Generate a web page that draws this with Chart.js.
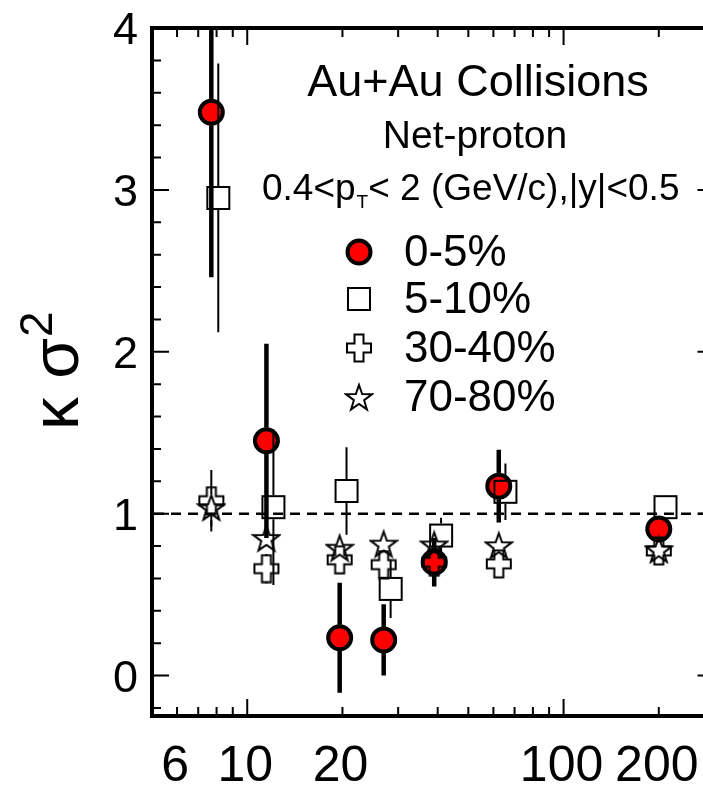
<!DOCTYPE html>
<html>
<head>
<meta charset="utf-8">
<script src="https://cdn.jsdelivr.net/npm/chart.js@4.4.1/dist/chart.umd.min.js"></script>
<style>
  html, body { margin: 0; padding: 0; background: #fff; overflow: hidden; }
  #wrap { position: relative; width: 730px; height: 785px; }
</style>
</head>
<body>
<div id="wrap"><canvas id="chart"></canvas></div>
<script>
// collision energies (GeV); the 5-10% points sit slightly to the right
const energies = [7.7, 11.5, 19.6, 27, 39, 62.4, 200];
const energiesShifted = [8.1, 12.1, 20.6, 28.4, 41, 65.5, 210];

const ks0to5 = [3.48, 1.45, 0.233, 0.22, 0.70, 1.17, 0.905];
const err0to5 = [1.02, 0.60, 0.34, 0.22, 0.15, 0.225, 0.05];
const ks5to10 = [2.95, 1.04, 1.14, 0.535, 0.865, 1.135, 1.04];
const err5to10 = [0.83, 0.48, 0.27, 0.18, 0.11, 0.175, 0.075];
const ks30to40 = [1.08, 0.66, 0.715, 0.685, 0.70, 0.69, 0.77];
const err30to40 = [0.19, 0.09, 0.08, 0.08, 0.06, 0.06, 0.03];
const ks70to80 = [1.04, 0.85, 0.79, 0.815, 0.81, 0.805, 0.78];
const err70to80 = [0.12, 0.07, 0.06, 0.06, 0.05, 0.04, 0.02];

const xTickLabels = [6, 10, 20, 100, 200];
const yTickLabels = [0, 1, 2, 3, 4];

const FONT = '"Liberation Sans", Arial, Helvetica, sans-serif';

function toPoints(xs, ys) {
  return xs.map((x, i) => ({ x: x, y: ys[i] }));
}

// hollow marker sprites, drawn once
function markerCanvas(draw) {
  const c = document.createElement('canvas');
  c.width = 30; c.height = 30;
  const g = c.getContext('2d');
  g.strokeStyle = '#000';
  g.lineWidth = 2;
  draw(g, 15, 15);
  return c;
}
const openSquare = markerCanvas((g, cx, cy) => {
  g.strokeRect(cx - 11, cy - 11, 22, 22);
});
const openCross = markerCanvas((g, cx, cy) => {
  const ax = 12, ay = 13.5, b = 4.5;
  g.beginPath();
  g.moveTo(cx - b, cy - ay); g.lineTo(cx + b, cy - ay); g.lineTo(cx + b, cy - b);
  g.lineTo(cx + ax, cy - b); g.lineTo(cx + ax, cy + b); g.lineTo(cx + b, cy + b);
  g.lineTo(cx + b, cy + ay); g.lineTo(cx - b, cy + ay); g.lineTo(cx - b, cy + b);
  g.lineTo(cx - ax, cy + b); g.lineTo(cx - ax, cy - b); g.lineTo(cx - b, cy - b);
  g.closePath();
  g.stroke();
});
const openStar = markerCanvas((g, cx, cy) => {
  const R = 13.5, r = 5.4;
  g.beginPath();
  for (let k = 0; k < 10; k++) {
    const rad = k % 2 === 0 ? R : r;
    const a = -Math.PI / 2 + k * Math.PI / 5;
    const px = cx + rad * Math.cos(a), py = cy + 1.5 + rad * Math.sin(a);
    if (k === 0) g.moveTo(px, py); else g.lineTo(px, py);
  }
  g.closePath();
  g.stroke();
});

// vertical error bars, broken where the marker sits
const errorBars = {
  id: 'errorBars',
  afterDatasetsDraw(chart) {
    const { ctx, chartArea: a, scales: { x, y } } = chart;
    ctx.save();
    ctx.beginPath();
    ctx.rect(a.left, a.top, a.right - a.left, a.bottom - a.top);
    ctx.clip();
    ctx.strokeStyle = '#000';
    chart.data.datasets.forEach(ds => {
      ctx.lineWidth = ds.errWidth;
      ds.data.forEach((p, i) => {
        const px = x.getPixelForValue(p.x);
        const py = y.getPixelForValue(p.y);
        const top = y.getPixelForValue(p.y + ds.errors[i]);
        const bot = y.getPixelForValue(p.y - ds.errors[i]);
        const gap = ds.markerGap;
        ctx.beginPath();
        if (py - gap > top) { ctx.moveTo(px, top); ctx.lineTo(px, py - gap); }
        if (py + gap < bot) { ctx.moveTo(px, py + gap); ctx.lineTo(px, bot); }
        ctx.stroke();
      });
    });
    ctx.restore();
  }
};

// dashed reference line at 1
const unityLine = {
  id: 'unityLine',
  beforeDatasetsDraw(chart) {
    const { ctx, chartArea: a, scales: { y } } = chart;
    const py = y.getPixelForValue(1);
    ctx.save();
    ctx.strokeStyle = '#000';
    ctx.lineWidth = 2.5;
    ctx.setLineDash([10, 7]);
    ctx.beginPath();
    ctx.moveTo(a.left + 2, py);
    ctx.lineTo(a.right, py);
    ctx.stroke();
    ctx.restore();
  }
};

// frame with inward ticks on all four sides, tick labels and annotations
const frameAndText = {
  id: 'frameAndText',
  afterDraw(chart) {
    const { ctx, chartArea: a, scales: { x, y } } = chart;
    ctx.save();
    ctx.strokeStyle = '#000';

    ctx.lineWidth = 2;
    ctx.beginPath();
    for (const dec of [1, 10, 100]) {
      for (let m = 1; m <= 9; m++) {
        const v = m * dec;
        if (v <= x.min || v >= x.max) continue;
        const px = x.getPixelForValue(v);
        const len = m === 1 ? 17 : 9;
        ctx.moveTo(px, a.bottom); ctx.lineTo(px, a.bottom - len);
        ctx.moveTo(px, a.top); ctx.lineTo(px, a.top + len);
      }
    }
    for (let k = -1; k <= 20; k++) {
      const v = k * 0.2;
      if (v <= y.min || v >= y.max) continue;
      const py = y.getPixelForValue(v);
      const len = k % 5 === 0 ? 17 : 9;
      ctx.moveTo(a.left, py); ctx.lineTo(a.left + len, py);
      ctx.moveTo(a.right, py); ctx.lineTo(a.right - len, py);
    }
    ctx.stroke();

    ctx.lineWidth = 4;
    ctx.strokeRect(a.left, a.top, a.right - a.left, a.bottom - a.top);

    ctx.fillStyle = '#000';
    ctx.textBaseline = 'alphabetic';

    // tick labels
    ctx.textAlign = 'center';
    ctx.font = '50px ' + FONT;
    xTickLabels.forEach(v => ctx.fillText(String(v), x.getPixelForValue(v) - 2, 781));
    ctx.textAlign = 'right';
    ctx.font = '45px ' + FONT;
    yTickLabels.forEach(v => ctx.fillText(String(v), 138, y.getPixelForValue(v) + 16));

    // header
    ctx.textAlign = 'center';
    ctx.font = '45px ' + FONT;
    ctx.fillText('Au+Au Collisions', 478, 96);
    ctx.font = '39px ' + FONT;
    ctx.fillText('Net-proton', 475, 148);

    ctx.textAlign = 'left';
    let tx = 262;
    ctx.font = '37px ' + FONT;
    ctx.fillText('0.4<p', tx, 200);
    tx += ctx.measureText('0.4<p').width;
    ctx.font = '19px ' + FONT;
    ctx.fillText('T', tx + 1, 208);
    tx += ctx.measureText('T').width + 1;
    ctx.font = '37px ' + FONT;
    ctx.fillText('< 2 (GeV/c),|y|<0.5', tx, 200);

    // legend
    const lx = 359;
    const rows = [
      { y: 252, label: '0-5%', mark: 'circle' },
      { y: 299, label: '5-10%', mark: openSquare },
      { y: 348, label: '30-40%', mark: openCross },
      { y: 397, label: '70-80%', mark: openStar }
    ];
    ctx.font = '44px ' + FONT;
    rows.forEach(r => {
      if (r.mark === 'circle') {
        ctx.beginPath();
        ctx.arc(lx, r.y, 11.5, 0, Math.PI * 2);
        ctx.fillStyle = '#ff0000';
        ctx.fill();
        ctx.lineWidth = 4;
        ctx.stroke();
        ctx.fillStyle = '#000';
      } else {
        ctx.drawImage(r.mark, lx - 15, r.y - 15);
      }
      ctx.fillText(r.label, 404, r.y + 14);
    });

    // y axis title
    ctx.translate(78, 430);
    ctx.rotate(-Math.PI / 2);
    ctx.font = '66px ' + FONT;
    ctx.fillText('κ σ', 0, 0);
    const w = ctx.measureText('κ σ').width;
    ctx.font = '46px ' + FONT;
    ctx.fillText('2', w + 1, -26);

    ctx.restore();
  }
};

new Chart(document.getElementById('chart'), {
  type: 'scatter',
  data: {
    datasets: [
      {
        label: '0-5%',
        data: toPoints(energies, ks0to5),
        errors: err0to5, errWidth: 4.5, markerGap: 13,
        pointStyle: 'circle', pointRadius: 11.5, pointBorderWidth: 4,
        pointBackgroundColor: '#ff0000', pointBorderColor: '#000',
        order: 4
      },
      {
        label: '5-10%',
        data: toPoints(energiesShifted, ks5to10),
        errors: err5to10, errWidth: 2, markerGap: 12,
        pointStyle: openSquare, pointRadius: 12,
        order: 3
      },
      {
        label: '30-40%',
        data: toPoints(energies, ks30to40),
        errors: err30to40, errWidth: 2, markerGap: 13,
        pointStyle: openCross, pointRadius: 12,
        order: 2
      },
      {
        label: '70-80%',
        data: toPoints(energies, ks70to80),
        errors: err70to80, errWidth: 2, markerGap: 13,
        pointStyle: openStar, pointRadius: 12,
        order: 1
      }
    ]
  },
  options: {
    responsive: true,
    maintainAspectRatio: false,
    animation: false,
    events: [],
    layout: { padding: { top: 28, right: 12, left: 0, bottom: 0 } },
    plugins: { legend: { display: false }, tooltip: { enabled: false } },
    scales: {
      x: {
        type: 'logarithmic',
        min: 5,
        max: 300,
        grid: { display: false, drawTicks: false },
        border: { display: false },
        ticks: { display: false },
        afterFit: s => { s.height = 785 - 716; }
      },
      y: {
        min: -0.25,
        max: 4,
        grid: { display: false, drawTicks: false },
        border: { display: false },
        ticks: { display: false },
        afterFit: s => { s.width = 152; }
      }
    }
  },
  plugins: [unityLine, errorBars, frameAndText]
});
</script>
</body>
</html>
